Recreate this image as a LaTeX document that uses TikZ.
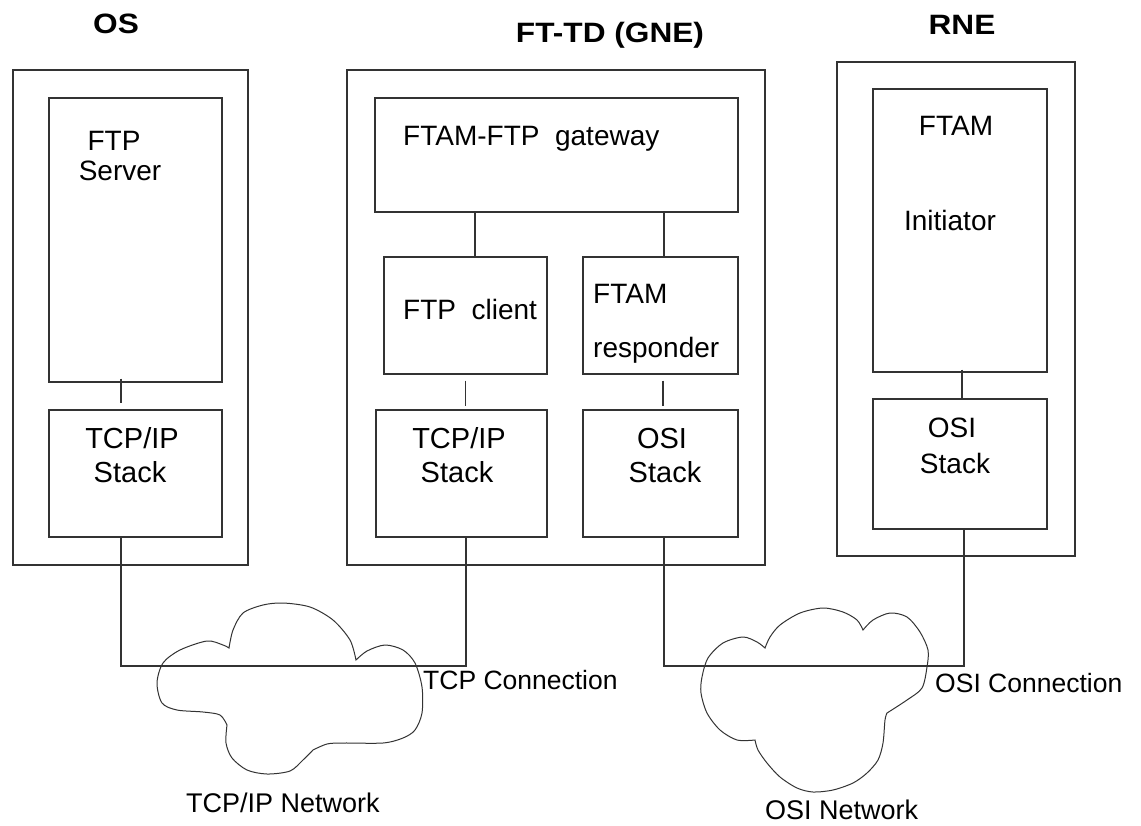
\documentclass[tikz,border=0pt]{standalone}
\usepackage{fontspec}
\usepackage{graphicx}
\setmainfont{Liberation Sans}
\definecolor{ln}{HTML}{333333}
\begin{document}
\begin{tikzpicture}[x=1pt,y=-1pt,
  box/.style={draw=ln,line width=1.1pt,inner sep=0pt,minimum width=#1},
  wire/.style={draw=ln,line width=1.1pt},
  txt/.style={inner sep=0pt,anchor=base,font=\fontsize{28}{32}\selectfont},
  ltxt/.style={inner sep=0pt,anchor=base west,font=\fontsize{28}{32}\selectfont},
  ttl/.style={inner sep=0pt,anchor=base,font=\fontsize{28}{32}\selectfont\bfseries}]
\useasboundingbox (0,0) rectangle (1141,825);
\newcommand{\mybox}[5]{\node[box=#4-#2,minimum height=#5-#3] (#1) at ({(#2+#4)/2},{(#3+#5)/2}) {};}
\mybox{os}{13}{70}{248}{565}
\mybox{srv}{49}{98}{222}{382}
\mybox{ostcp}{49}{410}{222}{537}
\mybox{ft}{347}{70}{765}{565}
\mybox{gw}{375}{98}{738}{212}
\mybox{fc}{384}{257}{547}{374}
\mybox{fr}{583}{257}{738}{374}
\mybox{fttcp}{376}{410}{547}{537}
\mybox{ftosi}{583}{410}{738}{537}
\mybox{rne}{837}{62}{1075}{556}
\mybox{ini}{873}{89}{1047}{372}
\mybox{rneosi}{873}{399}{1047}{529}
% titles
\node[ttl] (tos) at (116,33) {\scalebox{1.13}[1]{OS}};
\node[ttl] (tft) at (610,42) {\scalebox{1.13}[1]{FT-TD (GNE)}};
\node[ttl] (trne) at (962,34) {\scalebox{1.13}[1]{RNE}};
% texts
\node[txt] (t1) at (114,150) {FTP};
\node[txt] (t2) at (120,180) {Server};
\node[txt,font=\fontsize{29}{32}\selectfont] (t3) at (132,448) {TCP/IP};
\node[txt,font=\fontsize{29}{32}\selectfont] (t4) at (130,482) {Stack};
\node[ltxt] (t5) at (403,145) {FTAM-FTP\ \ gateway};
\node[ltxt] (t6) at (403,319) {FTP\ \ client};
\node[ltxt] (t7) at (593,303) {FTAM};
\node[ltxt] (t8) at (593,357) {responder};
\node[txt,font=\fontsize{29}{32}\selectfont] (t9) at (459,448) {TCP/IP};
\node[txt,font=\fontsize{29}{32}\selectfont] (t10) at (457,482) {Stack};
\node[txt,font=\fontsize{29}{32}\selectfont] (t11) at (662,448) {OSI};
\node[txt,font=\fontsize{29}{32}\selectfont] (t12) at (665,482) {Stack};
\node[txt] (t13) at (956,135) {FTAM};
\node[txt] (t14) at (950,230) {Initiator};
\node[txt] (t15) at (952,437) {OSI};
\node[txt] (t16) at (955,473) {Stack};
\node[ltxt,font=\fontsize{26.5}{30}\selectfont] (t17) at (423,689) {TCP Connection};
\node[ltxt,font=\fontsize{26.5}{30}\selectfont] (t18) at (935,692) {OSI Connection};
\node[ltxt,font=\fontsize{27}{30}\selectfont] (t19) at (186,812) {TCP/IP Network};
\node[ltxt,font=\fontsize{27}{30}\selectfont] (t20) at (765,819) {OSI Network};
% internal connectors
\draw[wire] ([shift={(-14.5,-4)}]srv.south) -- ([shift={(-14.5,-6)}]srv.south |- ostcp.north);
\draw[wire] ([xshift=9.5pt]fc.north) -- ([xshift=9.5pt]fc.north |- gw.south);
\draw[wire] ([xshift=3.5pt]fr.north) -- ([xshift=3.5pt]fr.north |- gw.south);
\draw[wire] ([shift={(0,6)}]fc.south) -- ([shift={(0,-3)}]fc.south |- fttcp.north);
\draw[wire] ([shift={(2.5,6)}]fr.south) -- ([shift={(2.5,-3)}]fr.south |- ftosi.north);
\draw[wire] ([shift={(2,-3)}]ini.south) -- ([shift={(2,0)}]ini.south |- rneosi.north);
% network connections
\coordinate (tcpy) at (0,666);
\draw[wire] ([xshift=-14.5pt]ostcp.south) -- ([xshift=-14.5pt]ostcp.south |- tcpy) -- ([xshift=4.5pt]fttcp.south |- tcpy) -- ([xshift=4.5pt]fttcp.south);
\draw[wire] ([xshift=3.5pt]ftosi.south) -- ([xshift=3.5pt]ftosi.south |- tcpy) -- ([xshift=4pt]rneosi.south |- tcpy) -- ([xshift=4pt]rneosi.south);
% clouds
\draw[draw=ln,line width=1pt]
  plot[smooth] coordinates {(227,725) (220,715) (203,712) (177,710) (162,703) (157,683) (163,663) (180,650) (207,641) (223,645) (229,648)}
  -- plot[smooth] coordinates {(229,648) (233,630) (243,613) (263,605) (283,603) (310,607) (333,620) (350,640) (356,660)}
  -- plot[smooth] coordinates {(356,660) (367,651) (385,645) (403,650) (415,663) (422,687) (422,713) (415,730) (403,738) (383,743) (343,743) (327,744) (313,750)}
  -- plot[smooth] coordinates {(313,750) (303,760) (290,771) (267,774) (247,770) (232,758) (226,743) (227,725)} -- cycle;
\draw[draw=ln,line width=1pt]
  plot[smooth] coordinates {(755,740) (737,740) (720,730) (707,713) (701,693) (702,677) (708,658) (723,643) (743,637) (757,642) (765,648)}
  -- plot[smooth] coordinates {(765,648) (770,637) (780,625) (800,613) (823,608) (843,612) (857,620) (863,630)}
  -- plot[smooth] coordinates {(863,630) (873,620) (890,613) (907,617) (920,632) (928,650) (927,667) (922,688) (907,700) (887,713)}
  -- plot[smooth] coordinates {(887,713) (885,720) (883,743) (878,760) (867,773) (853,783) (833,790) (813,792) (797,788) (780,777) (767,763) (758,750) (755,740)} -- cycle;
\end{tikzpicture}
\end{document}
